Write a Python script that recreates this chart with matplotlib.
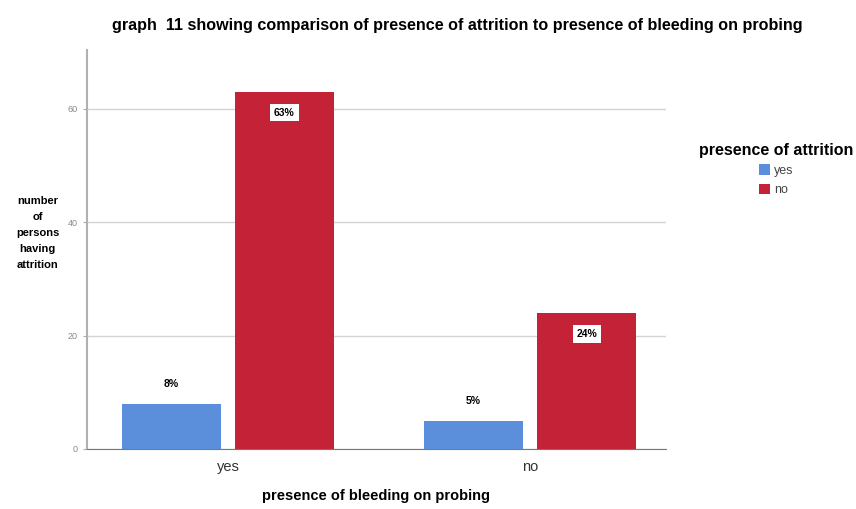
import matplotlib.pyplot as plt
import numpy as np

plt.rcParams['font.family'] = ['Liberation Sans', 'DejaVu Sans']

# data
bleeding = ['yes', 'no']
attrition_yes = [8, 5]
attrition_no = [63, 24]
labels_yes = ['8%', '5%']
labels_no = ['63%', '24%']
yticks = [0, 20, 40, 60]

blue = '#5b8fdc'
red = '#c42236'

fig = plt.figure(figsize=(8.56, 5.09), dpi=100)
ax = fig.add_axes([0.1016, 0.1179, 0.6764, 0.7841])

x = np.arange(len(bleeding))
w = 0.33
off = 0.187
b1 = ax.bar(x - off, attrition_yes, w, color=blue, label='yes', zorder=3)
b2 = ax.bar(x + off, attrition_no, w, color=red, label='no', zorder=3)

# value labels
for rect, lab in zip(b1, labels_yes):
    ax.text(rect.get_x() + rect.get_width() / 2, rect.get_height() + 3.4, lab,
            ha='center', va='center', fontsize=7.5, fontweight='bold', zorder=4)
for rect, lab in zip(b2, labels_no):
    ax.text(rect.get_x() + rect.get_width() / 2, rect.get_height() - 3.7, lab,
            ha='center', va='center', fontsize=7.5, fontweight='bold', zorder=4,
            bbox=dict(boxstyle='square,pad=0.35', facecolor='white', edgecolor='none'))

ax.set_xlim(-0.467, 1.45)
ax.set_ylim(0, 70.4)
ax.set_yticks(yticks)
ax.set_xticks(x)
ax.set_xticklabels(bleeding, fontsize=10.5, color='#333333')
ax.tick_params(axis='y', labelsize=6.5, colors='#888888', length=3, color='#aaaaaa')
ax.tick_params(axis='x', length=0, pad=8)
ax.grid(axis='y', color='#d4d4d4', linewidth=1, zorder=0)

for s in ['top', 'right']:
    ax.spines[s].set_visible(False)
ax.spines['left'].set_color('#b0b0b0')
ax.spines['left'].set_linewidth(1.5)
ax.spines['bottom'].set_color('#777777')

ax.set_xlabel('presence of bleeding on probing', fontsize=10.5, fontweight='bold', labelpad=11)
fig.text(0.044, 0.543, 'number\nof\npersons\nhaving\nattrition', ha='center', va='center',
         fontsize=8, fontweight='bold', linespacing=1.75)

fig.text(0.534, 0.95, 'graph  11 showing comparison of presence of attrition to presence of bleeding on probing',
         ha='center', va='center', fontsize=11.6, fontweight='bold')

leg = fig.legend(handles=[b1, b2], labels=['yes', 'no'], title='presence of attrition',
                 loc='upper center', bbox_to_anchor=(0.907, 0.742), frameon=False,
                 fontsize=9, handlelength=0.9, handleheight=0.9, handletextpad=0.3,
                 labelspacing=0.55, title_fontproperties={'weight': 'bold', 'size': 11.5})
for t in leg.get_texts():
    t.set_color('#444444')
leg._legend_box.align = 'center'

fig.savefig('out.png', dpi=100)
